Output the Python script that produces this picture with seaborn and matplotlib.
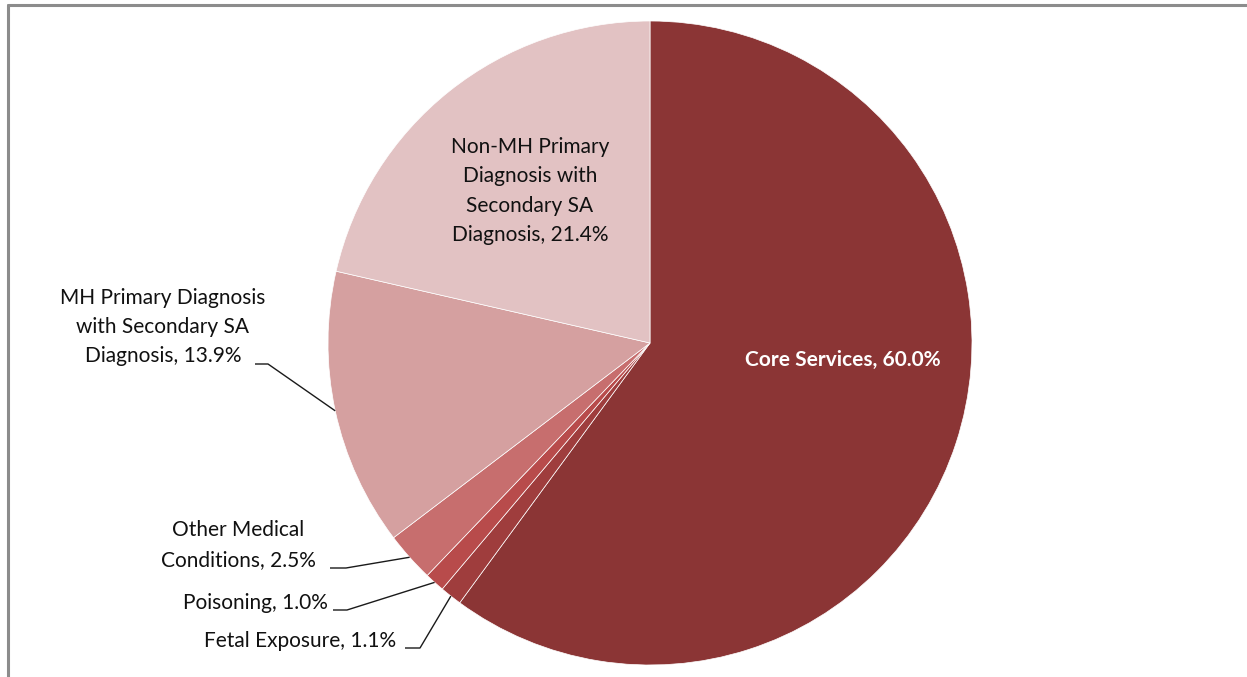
import numpy as np
import seaborn as sns
import matplotlib.pyplot as plt
from matplotlib.lines import Line2D

# slices, clockwise from 12 o'clock
CATEGORIES = [
    'Core Services',
    'Fetal Exposure',
    'Poisoning',
    'Other Medical Conditions',
    'MH Primary Diagnosis with Secondary SA Diagnosis',
    'Non-MH Primary Diagnosis with Secondary SA Diagnosis',
]
SHARES = [60.0, 1.1, 1.0, 2.5, 13.9, 21.4]
LABELS = [
    'Core Services, 60.0%',
    'Fetal Exposure, 1.1%',
    'Poisoning, 1.0%',
    'Other Medical\nConditions, 2.5%',
    'MH Primary Diagnosis\nwith Secondary SA\nDiagnosis, 13.9%',
    'Non-MH Primary\nDiagnosis with\nSecondary SA\nDiagnosis, 21.4%',
]
COLOURS = ['#8b3535', '#9f3d3d', '#b84b4b', '#c76e6e', '#d5a0a0', '#e2c2c3']

sns.set_theme(style='white')
plt.rcParams['font.family'] = ['Lato', 'DejaVu Sans']

W, H = 1247, 677
CX, CY, R = 650, H - 343, 322

fig = plt.figure(figsize=(W / 100, H / 100), dpi=100)
ax = fig.add_axes([0, 0, 1, 1])

ax.pie(
    SHARES, colors=COLOURS, startangle=90, counterclock=False,
    center=(CX, CY), radius=R, frame=True,
    wedgeprops=dict(edgecolor='white', linewidth=0.5),
)
ax.set_xlim(0, W)
ax.set_ylim(0, H)
ax.set_aspect('equal')
ax.axis('off')

# mid angle of each wedge (clockwise from top)
total = sum(SHARES)
cum = np.cumsum([0] + SHARES)
mid = [(cum[i] + cum[i + 1]) / 2 / total * 2 * np.pi for i in range(len(SHARES))]


def edge_point(i):
    return CX + R * np.sin(mid[i]), CY + R * np.cos(mid[i])


# label positions (pixel coords, y from top) and leader elbows
text_kw = dict(ha='center', va='center', fontsize=15, color='#111111', linespacing=1.58)
ax.text(843, H - 360, LABELS[0], ha='center', va='center', fontsize=15,
        color='white', fontweight='bold')
ax.text(530, H - 191, LABELS[5], **text_kw)
ax.text(163, H - 327, LABELS[4], **text_kw)
ax.text(238, H - 545, LABELS[3], **text_kw)
ax.text(255, H - 603, LABELS[2], **text_kw)
ax.text(300, H - 641, LABELS[1], **text_kw)

leaders = {
    4: (255, 268, 364),
    3: (330, 346, 568),
    2: (333, 347, 610),
    1: (405, 420, 648),
}
for i, (x0, x1, y) in leaders.items():
    ex, ey = edge_point(i)
    ax.plot([x0, x1, ex], [H - y, H - y, ey], color='#1a1a1a', lw=1.0,
            solid_capstyle='butt')

# grey frame on top and left edge
frame_kw = dict(color='#8c8c8c', lw=2.2, transform=fig.transFigure)
fig.add_artist(Line2D([8 / W, 1], [1 - 5 / H, 1 - 5 / H], **frame_kw))
fig.add_artist(Line2D([8 / W, 8 / W], [0, 1 - 5 / H], **frame_kw))

fig.savefig('out.png', dpi=100)
